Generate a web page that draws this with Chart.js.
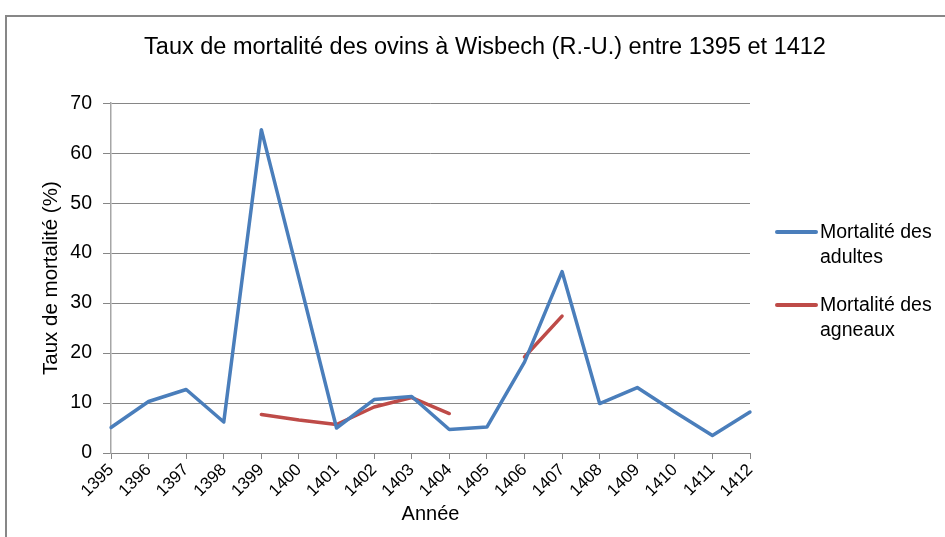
<!DOCTYPE html>
<html>
<head>
<meta charset="utf-8">
<script src="https://cdn.jsdelivr.net/npm/chart.js@4.4.1/dist/chart.umd.min.js"></script>
<style>
  html, body { margin: 0; padding: 0; background: #fff; }
  #wrap { position: relative; width: 945px; height: 537px; overflow: hidden; font-family: "Liberation Sans", Arial, sans-serif; }
  #frame { position: absolute; left: 5px; top: 15px; width: 980px; height: 580px; border: 2px solid #878787; box-sizing: border-box; }
  #chart { position: absolute; left: 0; top: 0; }
  .leg { position: absolute; left: 775px; font-size: 19.5px; line-height: 25px; color: #000; }
  .leg .sw { position: absolute; left: 0; top: 11px; width: 43px; height: 4px; border-radius: 2px; }
  .leg .txt { margin-left: 45px; }
</style>
</head>
<body>
<div id="wrap">
  <div id="frame"></div>
  <canvas id="chart" width="945" height="537"></canvas>
  <div id="legend"></div>
</div>
<script>
// Taux de mortalité des ovins, Wisbech 1395-1412
var years = ['1395', '1396', '1397', '1398', '1399', '1400', '1401', '1402', '1403',
             '1404', '1405', '1406', '1407', '1408', '1409', '1410', '1411', '1412'];
var adultes = [5.1, 10.3, 12.7, 6.2, 64.7, 35, 5, 10.7, 11.3, 4.7, 5.2, 18.2, 36.3, 9.9, 13.1, 8.2, 3.5, 8.2];
var agneaux = [null, null, null, null, 7.7, 6.6, 5.7, 9.2, 11.1, 7.9, null, 19.2, 27.4, null, null, null, null, null];
var yTicks = [0, 10, 20, 30, 40, 50, 60, 70];

var series = [
  { lines: ['Mortalité des', 'adultes'], data: adultes, color: '#4A7EBB', top: 219 },
  { lines: ['Mortalité des', 'agneaux'], data: agneaux, color: '#BE4B48', top: 292 }
];

var FONT = '"Liberation Sans", Arial, sans-serif';
var GRID = '#868686';

var datasets = series.map(function(s) {
  return {
    label: s.lines.join(' '),
    data: s.data,
    borderColor: s.color,
    backgroundColor: s.color,
    borderWidth: 3.5,
    borderJoinStyle: 'round',
    borderCapStyle: 'round',
    pointRadius: 0,
    tension: 0,
    spanGaps: false
  };
});

new Chart(document.getElementById('chart'), {
  type: 'line',
  data: { labels: years, datasets: datasets },
  options: {
    responsive: false, animation: false,
    layout: { padding: { left: 25, right: 0, top: 0, bottom: 0 } },
    plugins: {
      legend: { display: false },
      tooltip: { enabled: false },
      title: {
        display: true,
        text: 'Taux de mortalité des ovins à Wisbech (R.-U.) entre 1395 et 1412',
        color: '#000',
        font: { family: FONT, size: 23.5, weight: 'normal' },
        padding: { top: 33, bottom: 42 }
      }
    },
    scales: {
      x: {
        offset: false,
        grid: { drawOnChartArea: false, tickLength: 6, color: GRID },
        border: { color: GRID },
        ticks: { autoSkip: false, minRotation: 45, maxRotation: 45, color: '#000', padding: 1, font: { family: FONT, size: 17 } },
        title: { display: true, text: 'Année', color: '#000', font: { family: FONT, size: 20 }, padding: { top: 0, bottom: 11 } },
        afterFit: function(s) { s.height = 84; }
      },
      y: {
        min: 0, max: 70,
        afterBuildTicks: function(s) { s.ticks = yTicks.map(function(v) { return { value: v }; }); },
        grid: { color: GRID, tickLength: 8 },
        border: { color: '#a6a6a6', width: 1.5 },
        ticks: { color: '#000', padding: 11, font: { family: FONT, size: 19.5 } },
        title: { display: true, text: 'Taux de mortalité (%)', color: '#000', font: { family: FONT, size: 20.5 }, padding: { top: 14, bottom: 0 } },
        afterFit: function(s) { s.width = 86; }
      },
      // empty space on the right for the html legend
      yr: {
        position: 'right',
        ticks: { display: false },
        grid: { display: false },
        border: { display: false },
        afterFit: function(s) { s.width = 195; }
      }
    }
  }
});

// legend with wrapped labels like the original
var leg = document.getElementById('legend');
series.forEach(function(s) {
  var d = document.createElement('div');
  d.className = 'leg';
  d.style.top = s.top + 'px';
  d.innerHTML = '<span class="sw" style="background:' + s.color + '"></span>' +
    '<div class="txt">' + s.lines.join('<br>') + '</div>';
  leg.appendChild(d);
});
</script>
</body>
</html>
